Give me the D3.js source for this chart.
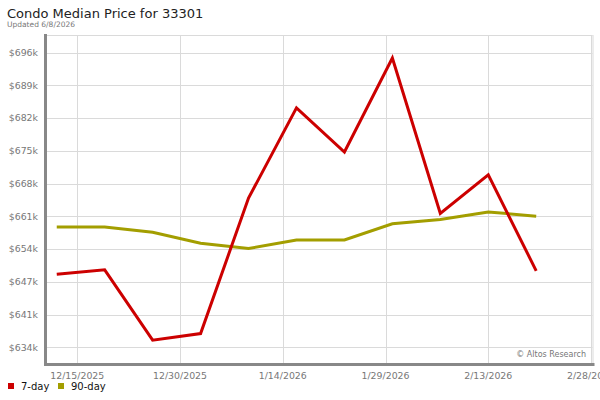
<!DOCTYPE html>
<html><head><meta charset="utf-8">
<script src="https://cdn.jsdelivr.net/npm/d3@7"></script>
<style>body{margin:0;background:#fff}svg{display:block;font-family:"DejaVu Sans",sans-serif}</style>
</head><body><svg id="c" width="600" height="400"></svg>
<script>
const dates = ["2025-12-12","2025-12-19","2025-12-26","2026-01-02","2026-01-09","2026-01-16","2026-01-23","2026-01-30","2026-02-06","2026-02-13","2026-02-20"];
const sevenDay = [649100,650000,635200,636600,665100,684100,674800,694600,661900,670000,649800];
const ninetyDay = [659000,659000,657900,655600,654500,656300,656300,659700,660600,662200,661300];
const yTickValues = [633700,640590,647480,654370,661260,668150,675040,681930,688820,695710];
const yTickLabels = ["$634k","$641k","$647k","$654k","$661k","$668k","$675k","$682k","$689k","$696k"];
const xTickDates = ["2025-12-15","2025-12-30","2026-01-14","2026-01-29","2026-02-13","2026-02-28"];
const xTickLabels = ["12/15/2025","12/30/2025","1/14/2026","1/29/2026","2/13/2026","2/28/2026"];
const seriesNames = ["7-day","90-day"];
const colors = ["#cc0000","#a39e00"];

const svg = d3.select("#c");
const L=46, R=592.5, T=35, B=363.5;
const pd = d3.utcParse("%Y-%m-%d");
const x = d3.scaleUtc().domain([pd(xTickDates[0]), pd(xTickDates[5])]).range([77.3, 591]);
const y = d3.scaleLinear().domain([yTickValues[0], yTickValues[9]]).range([347.3, 52.7]);

svg.append("rect").attr("width",600).attr("height",400).attr("fill","#fff");

// grid
const g = svg.append("g");
g.selectAll("line.h").data(yTickValues).join("line")
  .attr("x1",L).attr("x2",R).attr("y1",d=>Math.round(y(d))+0.5).attr("y2",d=>Math.round(y(d))+0.5)
  .attr("stroke","#dadada");
g.selectAll("line.v").data(xTickDates).join("line")
  .attr("x1",d=>Math.round(x(pd(d)))+0.5).attr("x2",d=>Math.round(x(pd(d)))+0.5).attr("y1",T).attr("y2",B)
  .attr("stroke","#dadada");
g.append("line").attr("x1",L).attr("x2",R).attr("y1",T+0.5).attr("y2",T+0.5).attr("stroke","#dadada");
g.append("line").attr("x1",R+0.5).attr("x2",R+0.5).attr("y1",T).attr("y2",B).attr("stroke","#dadada");

// axes lines
svg.append("line").attr("x1",45.5).attr("x2",45.5).attr("y1",34).attr("y2",366).attr("stroke","#888").attr("stroke-width",3);
svg.append("line").attr("x1",44).attr("x2",594.5).attr("y1",364.5).attr("y2",364.5).attr("stroke","#888").attr("stroke-width",3);

// y labels
svg.append("g").selectAll("text").data(yTickValues).join("text")
  .attr("x",38).attr("y",d=>y(d)).attr("dy","0.35em").attr("text-anchor","end")
  .attr("font-size","9.4px").attr("fill","#777").text((d,i)=>yTickLabels[i]);
// x labels
svg.append("g").selectAll("text").data(xTickDates).join("text")
  .attr("x",d=>x(pd(d))).attr("y",378.5).attr("text-anchor","middle")
  .attr("font-size","9.4px").attr("fill","#777").text((d,i)=>xTickLabels[i]);

// lines
const line = d3.line().x((d,i)=>x(pd(dates[i]))).y(d=>y(d));
[ninetyDay, sevenDay].forEach((s,k)=>{
  svg.append("path").attr("d",line(s)).attr("fill","none")
    .attr("stroke", colors[k===0?1:0]).attr("stroke-width",3).attr("stroke-linejoin","miter");
});

// watermark
svg.append("text").attr("x",586).attr("y",357).attr("text-anchor","end")
  .attr("font-size","8px").attr("fill","#777").text("© Altos Research");

// title
svg.append("text").attr("x",7).attr("y",18).attr("font-size","13px").attr("fill","#222").text("Condo Median Price for 33301");
svg.append("text").attr("x",7).attr("y",27).attr("font-size","7.5px").attr("fill","#777").text("Updated 6/8/2026");

// legend
const lg = svg.append("g");
const lx = [8, 58];
seriesNames.forEach((n,i)=>{
  lg.append("rect").attr("x",lx[i]).attr("y",383).attr("width",6).attr("height",6).attr("fill",colors[i]);
  lg.append("text").attr("x",lx[i]+13).attr("y",390).attr("font-size","10px").attr("fill","#111").text(n);
});
</script></body></html>
